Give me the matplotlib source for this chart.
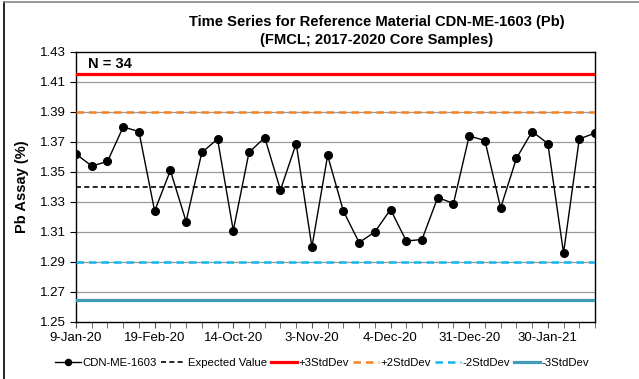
import matplotlib
matplotlib.use("Agg")
import matplotlib.pyplot as plt
from matplotlib.lines import Line2D
import numpy as np

plt.rcParams['font.family'] = ['Liberation Sans', 'DejaVu Sans']

values = [1.362, 1.354, 1.357, 1.380, 1.377, 1.324, 1.351, 1.317, 1.363, 1.372,
          1.311, 1.363, 1.373, 1.338, 1.369, 1.300, 1.361, 1.324, 1.303, 1.310,
          1.325, 1.304, 1.305, 1.333, 1.329, 1.374, 1.371, 1.326, 1.359, 1.377,
          1.369, 1.296, 1.372, 1.376]
tick_labels = ['9-Jan-20', '19-Feb-20', '14-Oct-20', '3-Nov-20', '4-Dec-20',
               '31-Dec-20', '30-Jan-21']
expected = 1.34
plus3 = 1.415
plus2 = 1.39
minus2 = 1.29
minus3 = 1.265
yticks = [1.25, 1.27, 1.29, 1.31, 1.33, 1.35, 1.37, 1.39, 1.41, 1.43]

n = len(values)
x = np.arange(n)

fig = plt.figure(figsize=(6.39, 3.79), dpi=100)
ax = fig.add_axes([76/639, 1-322/379, (595-76)/639, (322-52)/379])

ax.set_xlim(0, n - 1)
ax.set_ylim(yticks[0], yticks[-1])
ax.set_yticks(yticks)
ax.set_yticklabels([f'{v:.2f}' for v in yticks], fontsize=9.5)
for v in yticks[1:-1]:
    ax.axhline(v, color='#9a9a9a', lw=0.9, zorder=1)

ax.set_xticks(x, minor=True)
ax.set_xticks(x[::5])
ax.set_xticklabels(tick_labels, fontsize=9.5)
ax.tick_params(axis='x', which='both', length=4, direction='out', color='#555555', pad=3.5)
ax.tick_params(axis='y', length=4, direction='out', pad=3)

ln_data, = ax.plot(x, values, color='black', lw=1, marker='o', ms=5.5, zorder=6,
                   label='CDN-ME-1603')
ln_exp = ax.axhline(expected, color='black', lw=1.2, ls=(0, (3, 2)), zorder=3,
                    label='Expected Value')
ln_p3 = ax.axhline(plus3, color='#FF0000', lw=2.3, zorder=3, label='+3StdDev')
ln_p2 = ax.axhline(plus2, color='#F58220', lw=1.8, ls=(0, (3, 2)), zorder=3,
                   label='+2StdDev')
ln_m2 = ax.axhline(minus2, color='#12B5EE', lw=1.8, ls=(0, (3, 2)), zorder=3,
                   label='-2StdDev')
ln_m3 = ax.axhline(minus3, color='#3E9CB6', lw=2.3, zorder=3, label='-3StdDev')

for s in ax.spines.values():
    s.set_color('black')
    s.set_linewidth(1.0)

ax.text(0.75, 1.4175, f'N = {n}', fontsize=10.5, fontweight='bold', va='bottom', ha='left')

ax.set_ylabel('Pb Assay (%)', fontsize=10.5, fontweight='bold', labelpad=8)

fig.text(377/639, 1-15/379, 'Time Series for Reference Material CDN-ME-1603 (Pb)\n(FMCL; 2017-2020 Core Samples)',
         ha='center', va='top', fontsize=10.6, fontweight='bold', linespacing=1.35)

fig.legend(handles=[ln_data, ln_exp, ln_p3, ln_p2, ln_m2, ln_m3],
           loc='center', bbox_to_anchor=(322/639, 1-363/379), ncol=6, frameon=False,
           fontsize=8.2, handlelength=2.25, handletextpad=0.15, columnspacing=0.35,
           markerscale=0.8, borderaxespad=0, borderpad=0)

fig.add_artist(Line2D([4/639, 4/639], [0, 1-1.5/379], color='black', lw=1.2,
                      transform=fig.transFigure))
fig.add_artist(Line2D([4/639, 1], [1-1.5/379, 1-1.5/379], color='#888888', lw=1.2,
                      transform=fig.transFigure))

fig.savefig('out.png', dpi=100)
